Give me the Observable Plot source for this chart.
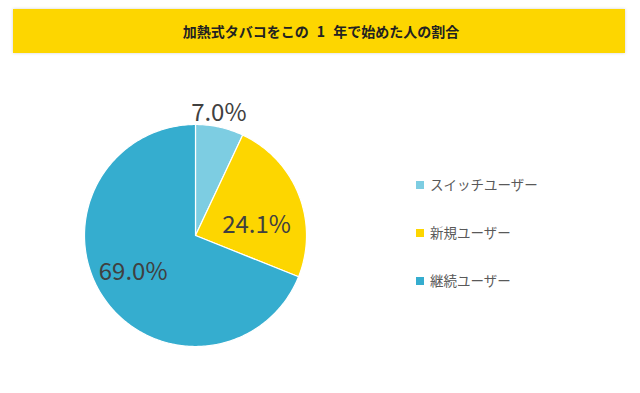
<!DOCTYPE html>
<html><head><meta charset="utf-8">
<script src="https://cdn.jsdelivr.net/npm/d3@7"></script>
<script src="https://cdn.jsdelivr.net/npm/@observablehq/plot@0.6"></script>
<style>
html,body{margin:0;padding:0;background:#fff;width:640px;height:393px;overflow:hidden;font-family:"Noto Sans CJK JP",sans-serif;}
#wrap{position:relative;width:640px;height:393px;}
#title{position:absolute;left:13px;top:9px;width:612px;height:44px;background:#fdd600;box-shadow:0 0 3px rgba(0,0,0,0.18);display:flex;align-items:center;justify-content:center;font-weight:bold;font-size:14px;color:#222;padding-left:4px;box-sizing:border-box;word-spacing:5px;}
#chart{position:absolute;left:0;top:0;}
#legend{position:absolute;left:416px;top:174px;font-size:13.5px;color:#595959;}
#legend div{height:48px;display:flex;align-items:flex-start;}
#legend span.sw{display:inline-block;width:8px;height:8px;margin:7px 6px 0 0;}
</style></head>
<body><div id="wrap"><div id="chart"></div><div id="title"></div><div id="legend"></div></div>
<script>
const title = "加熱式タバコをこの 1 年で始めた人の割合";
const categories = ["スイッチユーザー", "新規ユーザー", "継続ユーザー"];
const values = [7.0, 24.1, 69.0];
const labels = ["7.0%", "24.1%", "69.0%"];
const colors = ["#7dcde2", "#fdd600", "#35adcf"];

document.getElementById("title").textContent = title;
const lg = document.getElementById("legend");
categories.forEach((c, i) => {
  const d = document.createElement("div");
  d.innerHTML = `<span class="sw" style="background:${colors[i]}"></span>${c}`;
  lg.appendChild(d);
});

const W = 640, H = 393, cx = 195, cy = 235, R = 111;
const arcs = d3.pie().sort(null).value(d => d)(values);
const poly = [];
arcs.forEach((a, i) => {
  const n = Math.max(4, Math.ceil((a.endAngle - a.startAngle) * 60));
  poly.push({k: i, x: 0, y: 0});
  for (let j = 0; j <= n; j++) {
    const t = a.startAngle + (a.endAngle - a.startAngle) * j / n;
    poly.push({k: i, x: Math.sin(t), y: Math.cos(t)});
  }
  poly.push({k: i, x: 0, y: 0});
});
const labelR = [1.13, 0.62, 0.7];
const labelDy = [0, 15, -7];
const labelDx = [-4, -3, 2];
const lab = arcs.map((a, i) => {
  const m = (a.startAngle + a.endAngle) / 2;
  return {t: labels[i], x: Math.sin(m) * labelR[i], y: Math.cos(m) * labelR[i], dx: labelDx[i], dy: labelDy[i]};
});

const chart = Plot.plot({
  width: W, height: H, margin: 0,
  x: {domain: [-cx / R, (W - cx) / R], range: [0, W], axis: null},
  y: {domain: [-(H - cy) / R, cy / R], range: [H, 0], axis: null},
  marks: [
    Plot.line(poly, {x: "x", y: "y", z: "k", fill: d => colors[d.k], stroke: "#fff", strokeWidth: 1.2, curve: "linear"}),
    ...lab.map(l => Plot.text([l], {x: "x", y: "y", text: "t", dx: l.dx, dy: l.dy, fontSize: 24, fill: "#404040", fontFamily: "Noto Sans CJK JP", letterSpacing: "1px"}))
  ]
});
document.getElementById("chart").appendChild(chart);
</script></body></html>
